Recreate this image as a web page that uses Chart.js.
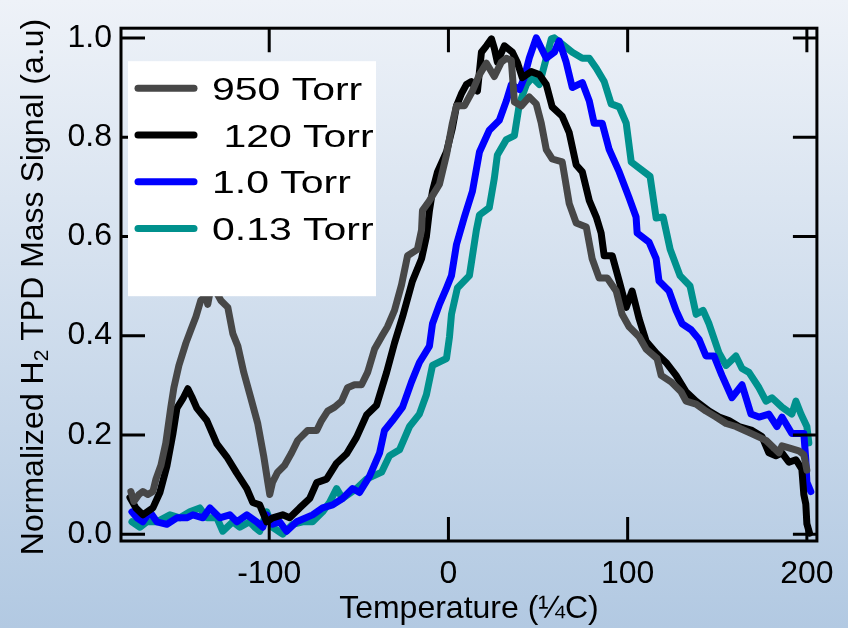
<!DOCTYPE html>
<html>
<head>
<meta charset="utf-8">
<title>H2 TPD</title>
<script src="https://cdn.jsdelivr.net/npm/chart.js@4.4.1/dist/chart.umd.min.js"></script>
<style>
    html, body { margin: 0; padding: 0; }
    body {
        width: 848px;
        height: 628px;
        background: linear-gradient(to bottom, #eef2f8 0%, #b2c9e2 100%);
    }
    #wrap { position: relative; width: 848px; height: 628px; }
</style>
</head>
<body>
<div id="wrap"><canvas id="tpdChart"></canvas></div>
<script>
// temperature (C) and normalized H2 signal for each pressure
const temp950 = [-177.2, -175.5, -172.7, -170.5, -167.7, -164.9, -163.2, -160.4, -157.7, -154.9, -153.2, -150.4, -146.5, -143.7, -140.9, -138.2, -135.4, -134.3, -132.6, -129.8, -127.0, -123.1, -120.3, -117.5, -114.2, -110.3, -106.4, -103.1, -100.8, -99.7, -98.1, -95.3, -91.4, -87.5, -84.1, -78.6, -73.5, -70.8, -67.4, -63.5, -59.6, -56.3, -52.4, -48.5, -45.1, -41.2, -37.3, -34.0, -30.1, -26.2, -22.8, -17.3, -15.0, -14.5, -10.6, -5.0, -1.1, 2.2, 4.5, 8.9, 13.4, 17.3, 21.2, 25.6, 29.5, 32.3, 35.1, 36.8, 40.7, 45.1, 49.0, 51.8, 54.6, 57.9, 63.5, 67.4, 71.3, 76.9, 80.2, 84.1, 88.6, 93.6, 96.9, 100.8, 106.4, 110.3, 116.4, 118.7, 124.2, 129.8, 132.6, 138.2, 143.7, 149.3, 154.9, 160.4, 168.8, 177.2, 184.4, 186.1, 190.0, 195.5, 198.3, 200.0];
const signal950 = [0.086, 0.066, 0.080, 0.086, 0.080, 0.086, 0.111, 0.139, 0.184, 0.256, 0.295, 0.340, 0.385, 0.412, 0.438, 0.471, 0.480, 0.463, 0.496, 0.490, 0.471, 0.457, 0.404, 0.379, 0.326, 0.275, 0.223, 0.158, 0.105, 0.080, 0.105, 0.125, 0.139, 0.164, 0.189, 0.209, 0.209, 0.229, 0.248, 0.256, 0.268, 0.295, 0.301, 0.301, 0.326, 0.373, 0.398, 0.418, 0.451, 0.502, 0.561, 0.574, 0.613, 0.652, 0.672, 0.705, 0.764, 0.828, 0.863, 0.863, 0.893, 0.926, 0.949, 0.922, 0.951, 0.959, 0.955, 0.871, 0.863, 0.881, 0.867, 0.828, 0.775, 0.756, 0.750, 0.666, 0.627, 0.619, 0.555, 0.516, 0.516, 0.490, 0.443, 0.418, 0.398, 0.373, 0.354, 0.320, 0.307, 0.287, 0.268, 0.262, 0.248, 0.236, 0.223, 0.217, 0.203, 0.189, 0.164, 0.178, 0.174, 0.168, 0.160, 0.129];

const temp120 = [-177.7, -174.4, -170.5, -164.9, -161.0, -157.1, -153.8, -151.5, -148.2, -145.4, -143.2, -140.4, -134.8, -129.2, -123.7, -118.1, -112.5, -109.2, -105.3, -101.4, -98.1, -92.5, -88.6, -83.0, -77.4, -73.5, -68.0, -62.4, -56.8, -51.3, -45.7, -40.1, -34.5, -30.1, -25.6, -20.1, -15.0, -12.3, -10.6, -8.9, -6.1, -1.1, 2.2, 4.5, 7.2, 10.0, 12.8, 16.2, 18.4, 21.2, 24.0, 25.6, 27.3, 31.2, 35.7, 38.4, 41.2, 46.2, 50.7, 54.6, 57.9, 63.5, 67.4, 71.3, 74.7, 78.6, 82.5, 85.2, 86.9, 91.4, 95.3, 99.2, 102.5, 106.4, 110.3, 115.9, 121.4, 127.0, 132.6, 138.2, 145.4, 151.0, 156.5, 162.1, 169.4, 174.9, 178.8, 182.7, 186.1, 190.0, 193.9, 197.2, 198.3, 199.4, 200.0, 201.5];
const signal120 = [0.074, 0.053, 0.039, 0.053, 0.084, 0.137, 0.201, 0.254, 0.273, 0.293, 0.277, 0.254, 0.229, 0.182, 0.156, 0.123, 0.092, 0.064, 0.059, 0.025, 0.033, 0.039, 0.033, 0.053, 0.072, 0.104, 0.111, 0.143, 0.162, 0.195, 0.240, 0.260, 0.326, 0.385, 0.438, 0.510, 0.555, 0.600, 0.652, 0.691, 0.730, 0.770, 0.818, 0.863, 0.887, 0.906, 0.912, 0.893, 0.971, 0.984, 0.998, 0.979, 0.951, 0.984, 0.971, 0.951, 0.920, 0.932, 0.926, 0.906, 0.861, 0.842, 0.809, 0.744, 0.730, 0.672, 0.639, 0.607, 0.561, 0.561, 0.510, 0.457, 0.490, 0.434, 0.389, 0.365, 0.346, 0.320, 0.287, 0.268, 0.248, 0.236, 0.229, 0.217, 0.209, 0.197, 0.164, 0.158, 0.164, 0.145, 0.150, 0.131, 0.080, 0.061, 0.021, 0.002];

const temp1 = [-176.6, -173.8, -170.5, -166.6, -162.7, -157.1, -151.5, -146.0, -142.6, -137.0, -133.1, -127.6, -122.0, -118.1, -112.5, -107.0, -103.6, -101.4, -98.1, -94.2, -90.3, -84.7, -75.8, -70.2, -64.6, -59.1, -53.5, -49.6, -44.0, -38.4, -35.7, -31.2, -25.6, -20.6, -16.2, -10.6, -8.9, -5.0, -1.1, 1.7, 4.5, 8.9, 13.4, 17.3, 22.8, 28.4, 32.3, 35.1, 39.6, 42.3, 45.1, 49.0, 54.6, 59.1, 61.8, 65.7, 69.1, 74.7, 78.6, 81.3, 85.8, 89.7, 95.3, 100.8, 104.7, 105.3, 112.0, 115.9, 117.5, 123.1, 127.0, 130.4, 135.4, 139.8, 143.7, 148.2, 152.6, 158.2, 163.8, 168.8, 173.3, 178.8, 183.3, 186.1, 191.6, 198.3, 199.4, 200.0, 202.2];
const signal1 = [0.045, 0.033, 0.025, 0.045, 0.025, 0.020, 0.033, 0.033, 0.039, 0.033, 0.053, 0.033, 0.039, 0.025, 0.039, 0.025, 0.014, 0.039, 0.020, 0.025, 0.006, 0.025, 0.039, 0.053, 0.059, 0.072, 0.092, 0.084, 0.117, 0.164, 0.209, 0.229, 0.256, 0.307, 0.346, 0.379, 0.424, 0.463, 0.496, 0.521, 0.584, 0.639, 0.691, 0.770, 0.814, 0.834, 0.873, 0.906, 0.896, 0.920, 0.959, 1.000, 0.959, 0.971, 0.994, 0.951, 0.900, 0.910, 0.873, 0.828, 0.828, 0.775, 0.730, 0.678, 0.639, 0.607, 0.588, 0.555, 0.510, 0.490, 0.451, 0.424, 0.412, 0.393, 0.359, 0.359, 0.320, 0.275, 0.301, 0.242, 0.236, 0.242, 0.217, 0.236, 0.203, 0.203, 0.150, 0.105, 0.086];

const temp013 = [-176.6, -172.1, -168.2, -162.7, -155.4, -149.9, -144.3, -138.7, -134.8, -129.2, -125.9, -120.3, -116.4, -110.9, -108.1, -105.3, -101.4, -98.1, -92.5, -86.9, -81.3, -75.8, -70.2, -66.3, -62.4, -59.1, -51.3, -45.7, -37.3, -32.9, -27.3, -21.7, -16.2, -12.3, -8.9, -1.1, 0.6, 1.7, 5.0, 11.7, 15.6, 17.3, 22.8, 25.6, 27.3, 32.3, 36.8, 39.6, 43.5, 46.8, 50.7, 54.6, 57.4, 59.1, 64.6, 69.1, 74.7, 78.6, 82.5, 86.9, 90.8, 95.3, 99.2, 102.0, 112.5, 115.9, 119.8, 123.7, 129.2, 134.8, 138.2, 142.1, 145.4, 151.0, 154.9, 160.4, 163.8, 167.7, 173.3, 177.2, 180.5, 186.1, 191.6, 193.9, 196.7, 200.0, 201.1];
const signal013 = [0.025, 0.014, 0.025, 0.025, 0.039, 0.033, 0.045, 0.053, 0.033, 0.033, 0.006, 0.025, 0.014, 0.025, 0.014, 0.006, 0.045, 0.014, 0.000, 0.020, 0.025, 0.025, 0.045, 0.064, 0.092, 0.072, 0.092, 0.111, 0.125, 0.158, 0.170, 0.217, 0.242, 0.281, 0.340, 0.354, 0.398, 0.443, 0.496, 0.521, 0.613, 0.643, 0.658, 0.717, 0.764, 0.795, 0.803, 0.867, 0.906, 0.920, 0.906, 0.959, 0.998, 1.000, 0.984, 0.971, 0.959, 0.959, 0.939, 0.912, 0.867, 0.861, 0.828, 0.750, 0.721, 0.637, 0.639, 0.574, 0.521, 0.500, 0.443, 0.451, 0.424, 0.365, 0.340, 0.359, 0.334, 0.326, 0.295, 0.268, 0.275, 0.256, 0.242, 0.268, 0.242, 0.217, 0.184];

const pressureLabels = ['950 Torr', ' 120 Torr', '1.0 Torr', '0.13 Torr'];
const lineColors = ['#474747', '#000000', '#0000ff', '#00918d'];
const xTicks = [-100, 0, 100, 200];
const yTicks = [0, 0.2, 0.4, 0.6, 0.8, 1.0];

const FONT = '"Liberation Sans", Arial, Helvetica, sans-serif';

function toPoints(xs, ys) {
    const n = Math.min(xs.length, ys.length);
    const pts = [];
    for (let i = 0; i < n; i++) {
        pts.push({ x: xs[i], y: ys[i] });
    }
    return pts;
}

const series = [
    toPoints(temp950, signal950),
    toPoints(temp120, signal120),
    toPoints(temp1, signal1),
    toPoints(temp013, signal013)
];

// box frame with inward ticks on all four sides, legend box and y title
const framePlugin = {
    id: 'framePlugin',
    afterDatasetsDraw(chart) {
        const { ctx, chartArea: a, scales: { x, y } } = chart;
        ctx.save();
        ctx.strokeStyle = '#000';
        ctx.lineWidth = 3;
        ctx.strokeRect(a.left, a.top, a.right - a.left, a.bottom - a.top);

        const len = 24;
        ctx.beginPath();
        xTicks.forEach(v => {
            const px = x.getPixelForValue(v);
            ctx.moveTo(px, a.bottom);
            ctx.lineTo(px, a.bottom - len);
            ctx.moveTo(px, a.top);
            ctx.lineTo(px, a.top + len);
        });
        yTicks.forEach(v => {
            const py = y.getPixelForValue(v);
            ctx.moveTo(a.left, py);
            ctx.lineTo(a.left + len, py);
            ctx.moveTo(a.right, py);
            ctx.lineTo(a.right - len, py);
        });
        ctx.stroke();

        // legend
        const lx = a.left + 7;
        const ly = a.top + 33;
        ctx.fillStyle = '#fff';
        ctx.fillRect(lx, ly, 248, 235);
        ctx.lineCap = 'round';
        ctx.lineWidth = 7;
        ctx.font = '32px ' + FONT;
        ctx.textBaseline = 'alphabetic';
        ctx.textAlign = 'left';
        pressureLabels.forEach((label, i) => {
            const rowY = ly + 27 + i * 46.8;
            ctx.strokeStyle = lineColors[i];
            ctx.beginPath();
            ctx.moveTo(lx + 10, rowY);
            ctx.lineTo(lx + 66, rowY);
            ctx.stroke();
            ctx.save();
            ctx.translate(lx + 84, rowY + 11.5);
            ctx.scale(1.28, 1);
            ctx.fillStyle = '#000';
            ctx.fillText(label, 0, 0);
            ctx.restore();
        });
        ctx.restore();
    },
    afterDraw(chart) {
        const { ctx } = chart;
        const big = '32px ' + FONT;
        const small = '21px ' + FONT;
        const parts = [
            { t: 'Normalized H', f: big, dy: 0 },
            { t: '2', f: small, dy: 5 },
            { t: ' TPD Mass Signal (a.u)', f: big, dy: 0 }
        ];
        ctx.save();
        let total = 0;
        parts.forEach(p => {
            ctx.font = p.f;
            p.w = ctx.measureText(p.t).width;
            total += p.w;
        });
        ctx.translate(43, 287);
        ctx.rotate(-Math.PI / 2);
        ctx.fillStyle = '#000';
        ctx.textBaseline = 'alphabetic';
        ctx.textAlign = 'left';
        let cx = -total / 2;
        parts.forEach(p => {
            ctx.font = p.f;
            ctx.fillText(p.t, cx, p.dy);
            cx += p.w;
        });
        ctx.restore();
    }
};

const ctx = document.getElementById('tpdChart').getContext('2d');

new Chart(ctx, { //eslint-disable-line
    type: 'line',
    data: {
        datasets: series.map((pts, i) => ({
            label: pressureLabels[i],
            data: pts,
            borderColor: lineColors[i],
            backgroundColor: lineColors[i],
            borderWidth: 7,
            pointRadius: 0,
            tension: 0,
            fill: false,
            borderJoinStyle: 'round',
            borderCapStyle: 'round'
        }))
    },
    options: {
        responsive: true,
        maintainAspectRatio: false,
        animation: false,
        layout: { padding: { left: 0, right: 30, top: 12, bottom: 0 } },
        plugins: {
            legend: { display: false },
            tooltip: { enabled: false }
        },
        scales: {
            x: {
                type: 'linear',
                min: -182.7,
                max: 205.6,
                afterBuildTicks: s => { s.ticks = xTicks.map(value => ({ value })); },
                afterFit: s => { s.height = 87; },
                grid: { display: false, drawTicks: false },
                border: { display: false },
                ticks: {
                    color: '#000',
                    padding: 14,
                    maxRotation: 0,
                    autoSkip: false,
                    font: { family: FONT, size: 32, lineHeight: 1.2 },
                    callback: v => String(v)
                },
                title: {
                    display: true,
                    text: 'Temperature (¼C)',
                    color: '#000',
                    padding: 0,
                    font: { family: FONT, size: 32, lineHeight: 1.2 }
                }
            },
            y: {
                min: -0.0137,
                max: 1.0195,
                afterBuildTicks: s => { s.ticks = yTicks.map(value => ({ value })); },
                afterFit: s => { s.width = 121; },
                grid: { display: false, drawTicks: false },
                border: { display: false },
                ticks: {
                    color: '#000',
                    padding: 9,
                    autoSkip: false,
                    font: { family: FONT, size: 32 },
                    callback: v => v.toFixed(1)
                }
            }
        }
    },
    plugins: [framePlugin]
});
</script>
</body>
</html>
